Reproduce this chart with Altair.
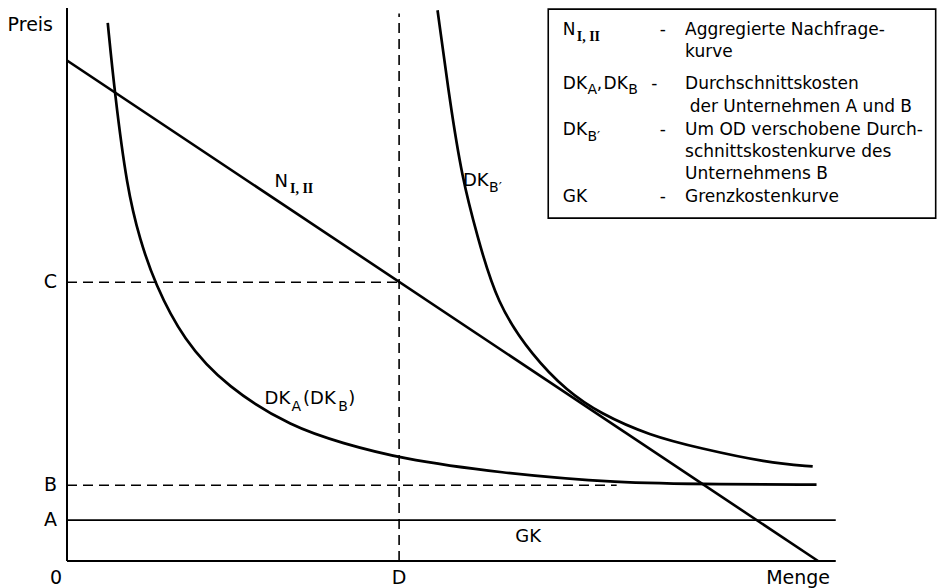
import altair as alt
import pandas as pd

# ---------------- values (units: Menge 0..100, Preis 0..100)
price_A = 7.4      # GK level
price_B = 13.7
price_C = 50.4
qty_D = 43.2

demand_q = [0.0, 97.7]
demand_p = [90.5, 0.0]

dka_q = [5.3, 6.2, 7.8, 9.5, 11.4, 15.1, 20.8, 29.4, 35.9, 43.0, 56.3, 71.5, 85.0, 97.5]
dka_p = [97.3, 84.7, 67.4, 58.0, 50.3, 40.0, 31.4, 24.1, 21.3, 18.6, 15.9, 14.1, 13.9, 13.8]

dkb_q = [48.2, 49.8, 51.4, 53.3, 55.9, 60.6, 65.0, 69.3, 75.8, 82.3, 91.0, 97.0]
dkb_p = [99.6, 83.1, 69.2, 59.1, 46.5, 37.0, 30.8, 26.7, 22.7, 20.4, 17.8, 17.1]

q_max = 100.0
p_max = 100.0
b_dash_end = 71.5
d_line_top = 99.0

axis_letters = ["C", "B", "A"]
axis_values = [price_C, price_B, price_A]

FONT = "DejaVu Sans"
SERIF = "Liberation Serif"

xs = alt.Scale(domain=[0, 113.3], nice=False, zero=False)
ys = alt.Scale(domain=[0, 100], nice=False, zero=False)


def X(f="q"):
    return alt.X(f"{f}:Q", scale=xs, axis=None)


def Y(f="p"):
    return alt.Y(f"{f}:Q", scale=ys, axis=None)


# axes drawn as rules
axes_df = pd.DataFrame({
    "q": [0.0, 0.0], "q2": [0.0, q_max],
    "p": [0.0, 0.0], "p2": [p_max, 0.0],
})
axes = alt.Chart(axes_df).mark_rule(color="black", strokeWidth=2).encode(
    x=X(), x2="q2:Q", y=Y(), y2="p2:Q")

gk = alt.Chart(pd.DataFrame({"q": [0.0], "q2": [q_max], "p": [price_A]})).mark_rule(
    color="black", strokeWidth=1.7).encode(x=X(), x2="q2:Q", y=Y())

dash_df = pd.DataFrame({
    "q": [0.0, 0.0, qty_D], "q2": [qty_D, b_dash_end, qty_D],
    "p": [price_C, price_B, 0.0], "p2": [price_C, price_B, d_line_top],
})
dashes = alt.Chart(dash_df).mark_rule(color="black", strokeWidth=1.6, strokeDash=[10, 6]).encode(
    x=X(), x2="q2:Q", y=Y(), y2="p2:Q")

demand = alt.Chart(pd.DataFrame({"q": demand_q, "p": demand_p})).mark_line(
    color="black", strokeWidth=2.6).encode(x=X(), y=Y())

curves_df = pd.concat([
    pd.DataFrame({"q": dka_q, "p": dka_p, "c": "DKA"}),
    pd.DataFrame({"q": dkb_q, "p": dkb_p, "c": "DKB2"}),
])
curves = alt.Chart(curves_df).mark_line(color="black", strokeWidth=2.7, interpolate="basis").encode(
    x=X(), y=Y(), detail="c:N", order="q:Q")

# legend box
box = alt.Chart(pd.DataFrame({"q": [62.6], "q2": [113.0], "p": [99.8], "p2": [62.0]})).mark_rect(
    fill="white", stroke="black", strokeWidth=1.6).encode(x=X(), x2="q2:Q", y=Y(), y2="p2:Q")

# ---------------- texts
legend_items = [
    ("N", 64.5, 96.0), ("-", 77.1, 96.0), ("Aggregierte Nachfrage-", 80.4, 96.0),
    ("kurve", 80.4, 92.0),
    ("DK", 64.5, 86.3), (",", 68.9, 86.3), ("DK", 69.8, 86.3), ("-", 76.0, 86.3),
    ("Durchschnittskosten", 80.4, 86.3),
    ("der Unternehmen A und B", 81.0, 82.1),
    ("DK", 64.5, 77.9), ("-", 77.1, 77.9), ("Um OD verschobene Durch-", 80.4, 77.9),
    ("schnittskostenkurve des", 80.4, 74.0),
    ("Unternehmens B", 80.4, 70.0),
    ("GK", 64.5, 65.8), ("-", 77.1, 65.8), ("Grenzkostenkurve", 80.4, 65.8),
]
curve_items = [
    ("N", 27.0, 68.5),
    ("DK", 25.7, 29.3), ("(DK", 30.7, 29.3), (")", 36.6, 29.3),
    ("DK", 51.5, 68.7),
    ("GK", 58.3, 4.3),
]
sub_items = [
    ("A", 67.7, 85.1), ("B", 73.0, 85.1),
    ("B\u2032", 67.7, 76.7),
    ("A", 29.2, 27.9), ("B", 35.3, 27.9),
    ("B\u2032", 54.9, 67.4),
]
roman_items = [
    ("I, II", 66.3, 94.8),
    ("I, II", 29.0, 67.2),
]


def tdf(items):
    return pd.DataFrame(items, columns=["t", "q", "p"])


legend_txt = alt.Chart(tdf(legend_items)).mark_text(
    font=FONT, fontSize=17, align="left", baseline="middle", color="black").encode(
    x=X(), y=Y(), text="t:N")
curve_txt = alt.Chart(tdf(curve_items)).mark_text(
    font=FONT, fontSize=18, align="left", baseline="middle", color="black").encode(
    x=X(), y=Y(), text="t:N")
sub_txt = alt.Chart(tdf(sub_items)).mark_text(
    font=FONT, fontSize=14, align="left", baseline="middle", color="black").encode(
    x=X(), y=Y(), text="t:N")
roman_txt = alt.Chart(tdf(roman_items)).mark_text(
    font=SERIF, fontSize=14, fontWeight="bold", align="left", baseline="middle", color="black").encode(
    x=X(), y=Y(), text="t:N")

ylab = alt.Chart(pd.DataFrame({"t": axis_letters, "p": axis_values, "q": 0.0})).mark_text(
    font=FONT, fontSize=19, align="right", baseline="middle", dx=-10, color="black").encode(
    x=X(), y=Y(), text="t:N")
xlab0 = alt.Chart(pd.DataFrame({"t": ["0"], "q": [0.0], "p": [0.0]})).mark_text(
    font=FONT, fontSize=19, align="center", baseline="middle", dy=17, dx=-11, color="black").encode(
    x=X(), y=Y(), text="t:N")
xlabD = alt.Chart(pd.DataFrame({"t": ["D"], "q": [qty_D], "p": [0.0]})).mark_text(
    font=FONT, fontSize=19, align="center", baseline="middle", dy=17, color="black").encode(
    x=X(), y=Y(), text="t:N")

preis = alt.Chart(pd.DataFrame({"t": ["Preis"], "q": [0.0], "p": [96.9]})).mark_text(
    font=FONT, fontSize=19, align="right", baseline="middle", dx=-14, color="black").encode(
    x=X(), y=Y(), text="t:N")
menge = alt.Chart(pd.DataFrame({"t": ["Menge"], "q": [95.1], "p": [0.0]})).mark_text(
    font=FONT, fontSize=19, align="center", baseline="middle", dy=17, color="black").encode(
    x=X(), y=Y(), text="t:N")

chart = alt.layer(
    axes, gk, dashes, demand, curves, box, legend_txt, curve_txt, sub_txt, roman_txt,
    ylab, xlab0, xlabD, preis, menge,
).properties(
    width=871, height=553,
    padding={"left": 59, "top": 0, "right": 0, "bottom": 27},
    autosize=alt.AutoSizeParams(type="none"),
    background="white",
).configure_view(strokeWidth=0)

chart.save("out.html", embed_options={"renderer": "svg", "actions": False})
